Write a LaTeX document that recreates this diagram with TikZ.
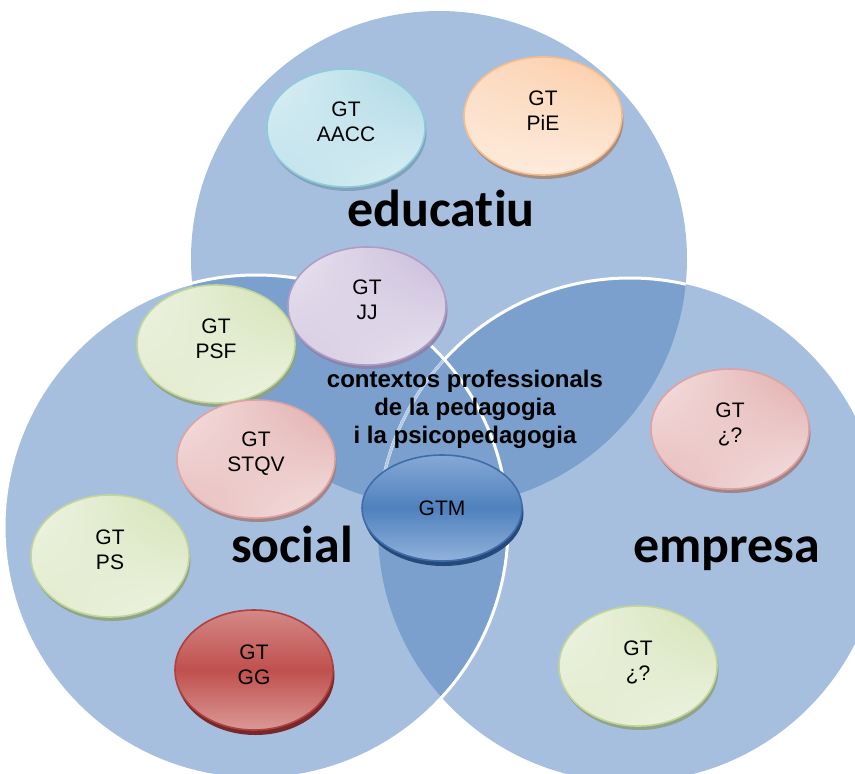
\documentclass[tikz,border=0pt]{standalone}
\usepackage{fontspec}
\setmainfont{Liberation Sans}
\newfontfamily\calibrifont[Ligatures={NoCommon,NoRequired,NoContextual}]{Carlito}
\usetikzlibrary{shapes.geometric,shadows,shadings}
\definecolor{vlight}{HTML}{A7BFDE}
\definecolor{vdark}{HTML}{7BA0CD}
% bubble colours
\definecolor{cyL}{HTML}{DEF0F5}\definecolor{cyD}{HTML}{A6D6E3}\definecolor{cyB}{HTML}{8FCBDA}\definecolor{cyS}{HTML}{7F9FB8}
\definecolor{orL}{HTML}{FDEBDC}\definecolor{orD}{HTML}{FBCCA6}\definecolor{orB}{HTML}{F9BD8B}\definecolor{orS}{HTML}{A58A7C}
\definecolor{viL}{HTML}{EAE5F0}\definecolor{viD}{HTML}{C6B8D8}\definecolor{viB}{HTML}{B09CC5}\definecolor{viS}{HTML}{8A82A8}
\definecolor{grL}{HTML}{EFF4E4}\definecolor{grD}{HTML}{D2E1B3}\definecolor{grB}{HTML}{C2D69A}\definecolor{grS}{HTML}{8DA283}
\definecolor{piL}{HTML}{F5E3E3}\definecolor{piD}{HTML}{E0A9A8}\definecolor{piB}{HTML}{DFA2A1}\definecolor{piS}{HTML}{A07F83}
\definecolor{rdT}{HTML}{D48987}\definecolor{rdM}{HTML}{C0504D}\definecolor{rdBo}{HTML}{DA9896}\definecolor{rdB}{HTML}{AE403D}\definecolor{rdS}{HTML}{78282A}
\definecolor{blT}{HTML}{86A8D6}\definecolor{blM}{HTML}{4F81BD}\definecolor{blBo}{HTML}{92B2DC}\definecolor{blB}{HTML}{3F6DAA}\definecolor{blS}{HTML}{254A7A}
\tikzset{
  bub/.style={ellipse, line width=1.6pt, inner sep=0pt, minimum width=158pt, minimum height=118pt},
  lbl/.style={align=center, font=\fontsize{21}{25}\selectfont, text=black, inner sep=0pt},
  big/.style={font=\calibrifont\bfseries\fontsize{52}{60}\selectfont, anchor=base, inner sep=0pt},
  ctx/.style={font=\bfseries\fontsize{24}{28}\selectfont, anchor=base, inner sep=0pt},
  cyanb/.style={draw=cyB, upper left=cyL, lower right=cyL, upper right=cyD, lower left=cyD!60!cyL,
    drop shadow={shadow xshift=1.5pt, shadow yshift=-4pt, fill=cyS, opacity=0.9}},
  orangeb/.style={draw=orB, upper left=orD!50!orL, lower right=orL, upper right=orD, lower left=orL,
    drop shadow={shadow xshift=1.5pt, shadow yshift=-4pt, fill=orS, opacity=0.9}},
  violetb/.style={draw=viB, upper left=viL, lower right=viL, upper right=viD, lower left=viD!60!viL,
    drop shadow={shadow xshift=1.5pt, shadow yshift=-4pt, fill=viS, opacity=0.9}},
  greenb/.style={draw=grB, upper left=grL, lower right=grL, upper right=grD, lower left=grD!50!grL,
    drop shadow={shadow xshift=1.5pt, shadow yshift=-4pt, fill=grS, opacity=0.9}},
  pinkb/.style={draw=piB, upper left=piL, lower right=piL, upper right=piD, lower left=piD!70!piL,
    drop shadow={shadow xshift=1.5pt, shadow yshift=-4pt, fill=piS, opacity=0.9}},
  redb/.style={draw=rdB, top color=rdT, bottom color=rdBo, middle color=rdM,
    drop shadow={shadow xshift=1.5pt, shadow yshift=-5pt, fill=rdS, opacity=1}},
  blueb/.style={draw=blB, top color=blT, bottom color=blBo, middle color=blM,
    drop shadow={shadow xshift=1.5pt, shadow yshift=-5pt, fill=blS, opacity=1}},
}
\begin{document}
\begin{tikzpicture}[x=1pt,y=-1pt]
\useasboundingbox (0,0) rectangle (855,774);
\clip (0,0) rectangle (855,774);
\coordinate (cT) at (439,259);
\coordinate (cL) at (256,527);
\coordinate (cR) at (630,530);
\def\rT{248}\def\rL{252}\def\rR{252}
% circle fills
\fill[vlight] (cT) circle[radius=\rT];
\fill[vlight] (cL) circle[radius=\rL];
\fill[vlight] (cR) circle[radius=\rR];
\begin{scope}
  \clip (cT) circle[radius=\rT];
  \fill[vdark] (cL) circle[radius=\rL];
  \fill[vdark] (cR) circle[radius=\rR];
\end{scope}
\begin{scope}
  \clip (cL) circle[radius=\rL];
  \fill[vdark] (cR) circle[radius=\rR];
\end{scope}
% white outlines
\begin{scope}
  \clip (cT) circle[radius=\rT];
  \draw[white, line width=3pt] (cR) circle[radius=\rR];
\end{scope}
\begin{scope}
  \clip (cT) circle[radius=\rT];
  \clip (cL) circle[radius=\rL];
  \draw[vdark!55!white, line width=2.5pt] (cR) circle[radius=\rR];
\end{scope}
\draw[white, line width=3pt] (cL) circle[radius=\rL];
% big labels
\node[big] (educ) at (441,226) {educatiu};
\node[big] (soc) at (292,562) {social};
\node[big] (emp) at (727,562) {empresa};
\node[ctx] (ctx1) at (465,387) {contextos professionals};
\node[ctx] (ctx2) at (465,415) {de la pedagogia};
\node[ctx] (ctx3) at (465,443) {i la psicopedagogia};
% bubbles
\node[bub, cyanb] (aacc) at (346,128) {};
\node[lbl] (aacct) at (346,122) {GT\\AACC};
\node[bub, orangeb] (pie) at (543,116) {};
\node[lbl] (piet) at (543,111) {GT\\PiE};
\node[bub, greenb] (psf) at (216,344) {};
\node[lbl] (psft) at (216,339) {GT\\PSF};
\node[bub, violetb] (jj) at (367,306) {};
\node[lbl] (jjt) at (367,300) {GT\\JJ};
\node[bub, pinkb] (stqv) at (256,459) {};
\node[lbl] (stqvt) at (256,454) {GT\\STQV};
\node[bub, greenb, minimum height=122pt] (ps) at (110,556) {};
\node[lbl] (pst) at (110,550) {GT\\PS};
\node[bub, redb, minimum height=120pt] (gg) at (254,670) {};
\node[lbl] (ggt) at (254,665) {GT\\GG};
\node[bub, pinkb, minimum height=120pt] (q1) at (730,429) {};
\node[lbl] (q1t) at (730,424) {GT\\¿?};
\node[bub, greenb, minimum height=120pt] (q2) at (638,666) {};
\node[lbl] (q2t) at (638,662) {GT\\¿?};
\node[bub, blueb, minimum width=160pt, minimum height=106pt] (gtm) at (442,508) {};
\node[lbl] (gtmt) at (442,508) {GTM};
\end{tikzpicture}
\end{document}
